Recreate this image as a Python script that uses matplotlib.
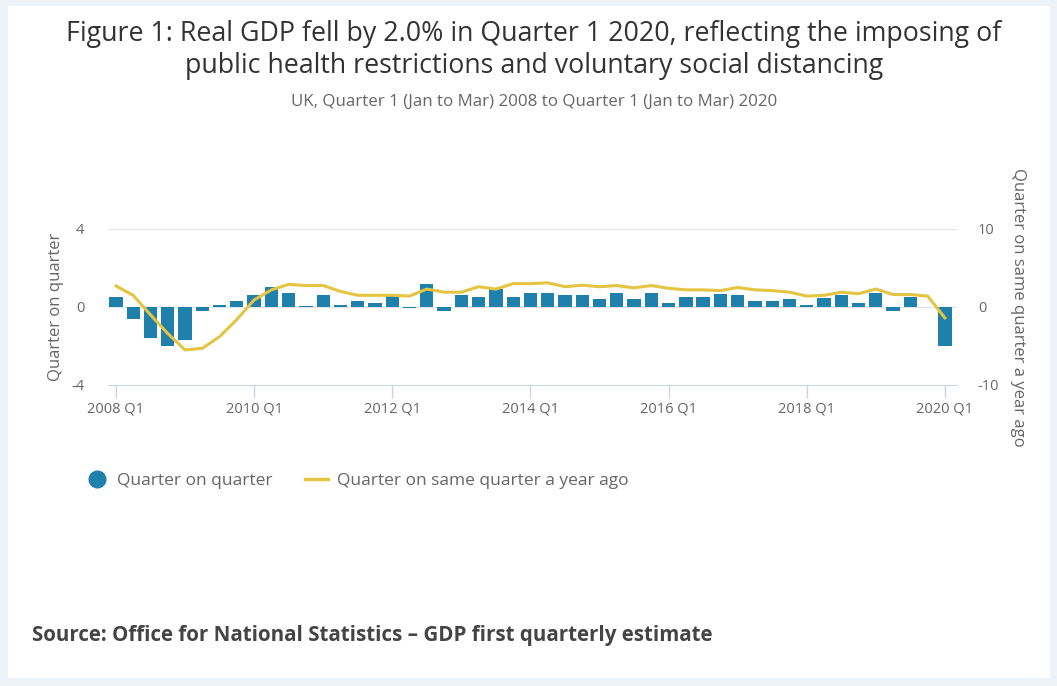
import matplotlib
matplotlib.use('Agg')
import matplotlib.pyplot as plt
from matplotlib.patches import Rectangle
from matplotlib.lines import Line2D

plt.rcParams['font.family'] = ['Open Sans', 'DejaVu Sans']

# UK real GDP growth, 2008 Q1 to 2020 Q1 (%)
quarters = [f'{y} Q{q}' for y in range(2008, 2021) for q in range(1, 5)][:49]

qoq = [0.5, -0.6, -1.6, -2.0, -1.7, -0.2, 0.1, 0.3,
       0.6, 1.0, 0.7, 0.05, 0.6, 0.1, 0.3, 0.2,
       0.6, -0.05, 1.2, -0.2, 0.6, 0.5, 0.9, 0.5,
       0.7, 0.7, 0.6, 0.6, 0.4, 0.7, 0.4, 0.7,
       0.2, 0.5, 0.5, 0.65, 0.6, 0.3, 0.3, 0.4,
       0.1, 0.45, 0.6, 0.2, 0.7, -0.2, 0.5, 0.0,
       -2.0]

yoy = [2.7, 1.5, -1.0, -3.4, -5.5, -5.3, -3.8, -1.6,
       0.9, 2.2, 2.9, 2.75, 2.75, 2.0, 1.5, 1.5,
       1.5, 1.4, 2.3, 1.9, 1.9, 2.6, 2.3, 3.0,
       3.0, 3.1, 2.6, 2.8, 2.6, 2.75, 2.45, 2.75,
       2.4, 2.2, 2.2, 2.1, 2.5, 2.2, 2.1, 1.9,
       1.4, 1.5, 1.9, 1.7, 2.3, 1.6, 1.6, 1.4,
       -1.4]

tick_idx = list(range(0, 49, 8))

bar_color = '#1f80ab'
line_color = '#e5c442'
grid_color = '#e4e4e4'
text_grey = '#666666'

fig = plt.figure(figsize=(10.57, 6.86), dpi=100)
fig.patch.set_facecolor('#eef2f9')
# white card behind everything
fig.patches.append(Rectangle((8 / 1057, 8 / 686), 1042 / 1057, 672 / 686,
                             transform=fig.transFigure, facecolor='white',
                             edgecolor='none', zorder=-5))

ax = fig.add_axes([108 / 1057, 1 - 385 / 686, 849 / 1057, 156 / 686])
ax.set_facecolor('none')
x = list(range(len(quarters)))
ax.bar(x, qoq, width=0.77, color=bar_color, zorder=2)
ax.set_xlim(-0.46, 48.7)
ax.set_ylim(-4, 4)
ax.set_yticks([-4, 0, 4])
ax.set_yticklabels(['-4', '0', '4'])
for v in [0, 4]:
    ax.axhline(v, color=grid_color, lw=1, zorder=1)

ax.set_xticks([x[i] for i in tick_idx])
ax.set_xticklabels([quarters[i] for i in tick_idx])
ax.tick_params(axis='x', length=9, width=1, color='#ccd3e3', labelsize=10.5,
               labelcolor=text_grey, pad=3)
ax.tick_params(axis='y', length=0, labelsize=10.5, labelcolor=text_grey, pad=17)
for s in ['top', 'right', 'left']:
    ax.spines[s].set_visible(False)
ax.spines['bottom'].set_color('#ccd3e3')
ax.set_ylabel('Quarter on quarter', fontsize=12, color=text_grey, labelpad=5)

ax2 = ax.twinx()
ax2.plot(x, yoy, color=line_color, lw=2.2, zorder=3)
ax2.set_ylim(-10, 10)
ax2.set_yticks([-10, 0, 10])
ax2.set_yticklabels(['-10', '0', '10'])
ax2.tick_params(axis='y', length=0, labelsize=10.5, labelcolor=text_grey, pad=15)
for s in ['top', 'right', 'left', 'bottom']:
    ax2.spines[s].set_visible(False)
ax2.set_ylabel('Quarter on same quarter a year ago', fontsize=12, color=text_grey,
               rotation=270, labelpad=19.5)

handles = [Line2D([], [], marker='o', ls='none', color=bar_color, markersize=12),
           Line2D([], [], color=line_color, lw=2.5)]
fig.legend(handles, ['Quarter on quarter', 'Quarter on same quarter a year ago'],
           loc='center left', bbox_to_anchor=(70 / 1057, 1 - 481 / 686), ncol=2,
           frameon=False, fontsize=12.5, labelcolor=text_grey, handlelength=1.3,
           handletextpad=0.5, columnspacing=1.9)

fig.text(534 / 1057, 1 - 34 / 686,
         'Figure 1: Real GDP fell by 2.0% in Quarter 1 2020, reflecting the imposing of',
         ha='center', va='center', fontsize=19.3, color='#333333')
fig.text(534 / 1057, 1 - 66 / 686,
         'public health restrictions and voluntary social distancing',
         ha='center', va='center', fontsize=19.3, color='#333333')
fig.text(534 / 1057, 1 - 102 / 686,
         'UK, Quarter 1 (Jan to Mar) 2008 to Quarter 1 (Jan to Mar) 2020',
         ha='center', va='center', fontsize=12.2, color=text_grey)
fig.text(32 / 1057, 1 - 636 / 686,
         'Source: Office for National Statistics \u2013 GDP first quarterly estimate',
         ha='left', va='center', fontsize=14.8, fontweight='bold', color='#444444')

fig.savefig('out.png', dpi=100)
